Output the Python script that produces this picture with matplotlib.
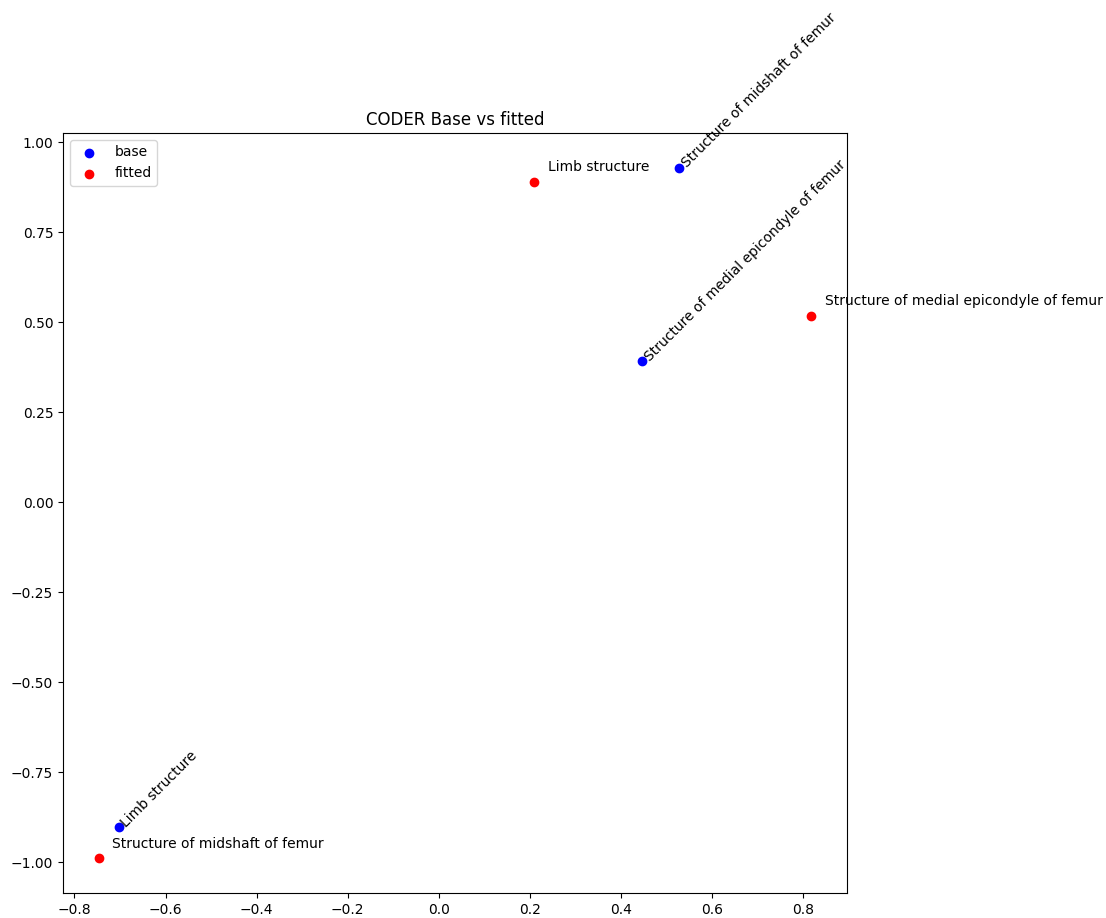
import matplotlib
matplotlib.use('Agg')
import matplotlib.pyplot as plt

# Puntos "base" (azul) y "fitted" (rojo)
base_x = [0.527, 0.446, -0.703]
base_y = [0.930, 0.394, -0.903]
base_labels = ['Structure of midshaft of femur',
               'Structure of medial epicondyle of femur',
               'Limb structure']

fitted_x = [0.209, 0.818, -0.747]
fitted_y = [0.891, 0.518, -0.989]
fitted_labels = ['Limb structure',
                 'Structure of medial epicondyle of femur',
                 'Structure of midshaft of femur']

fig = plt.figure(figsize=(11.06, 9.18), dpi=100)
ax = fig.add_axes([63 / 1106, 25 / 918, 784 / 1106, 760 / 918])

ax.scatter(base_x, base_y, color='blue', label='base')
ax.scatter(fitted_x, fitted_y, color='red', label='fitted')

# etiquetas base giradas
for x, y, lab in zip(base_x, base_y, base_labels):
    ax.text(x, y, lab, rotation=45, fontsize=10)

# etiquetas fitted desplazadas
for x, y, lab in zip(fitted_x, fitted_y, fitted_labels):
    ax.text(x + 0.03, y + 0.03, lab, fontsize=10)

ax.set_title('CODER Base vs fitted', fontsize=12)
ax.legend(loc='upper left')

fig.savefig('out.png', dpi=100)
